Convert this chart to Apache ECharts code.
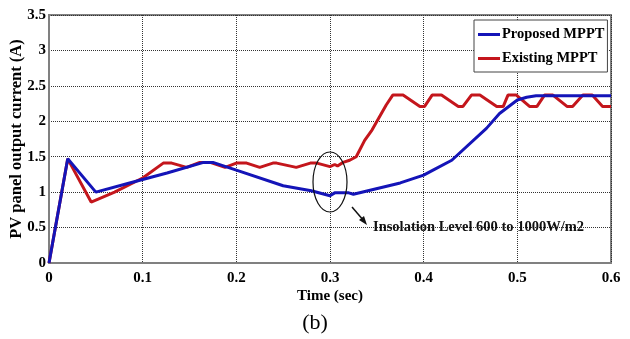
<!DOCTYPE html>
<html>
<head>
<meta charset="utf-8">
<script src="https://cdn.jsdelivr.net/npm/echarts@6/dist/echarts.min.js"></script>
<style>
html, body { margin: 0; padding: 0; background: #fff; }
#chart { width: 630px; height: 339px; }
</style>
</head>
<body>
<div id="chart"></div>
<script>
// Proposed MPPT (blue)
var proposedTime = [0, 0.02, 0.05, 0.086, 0.126, 0.165, 0.175, 0.2, 0.25, 0.28, 0.3, 0.305, 0.32, 0.325, 0.375, 0.4, 0.41, 0.43, 0.467, 0.481, 0.5, 0.51, 0.52, 0.6];
var proposedCurrent = [0, 1.47, 1.0, 1.13, 1.27, 1.42, 1.42, 1.31, 1.09, 1.02, 0.95, 0.99, 0.99, 0.97, 1.13, 1.24, 1.31, 1.45, 1.9, 2.11, 2.3, 2.34, 2.36, 2.36];

// Existing MPPT (red)
var existingTime = [0, 0.02, 0.045, 0.07, 0.1, 0.122, 0.131, 0.147, 0.161, 0.172, 0.188, 0.2, 0.211, 0.225, 0.239, 0.243, 0.264, 0.279, 0.286, 0.3, 0.305, 0.308, 0.314, 0.321, 0.328, 0.337, 0.345, 0.36, 0.367, 0.378, 0.396, 0.401, 0.409, 0.419, 0.437, 0.442, 0.451, 0.46, 0.478, 0.485, 0.49, 0.499, 0.513, 0.521, 0.529, 0.538, 0.553, 0.559, 0.57, 0.58, 0.591, 0.6];
var existingCurrent = [0, 1.47, 0.86, 1.0, 1.2, 1.41, 1.41, 1.35, 1.42, 1.42, 1.35, 1.41, 1.41, 1.35, 1.41, 1.41, 1.35, 1.41, 1.41, 1.36, 1.39, 1.37, 1.42, 1.45, 1.5, 1.73, 1.88, 2.23, 2.37, 2.37, 2.21, 2.21, 2.37, 2.37, 2.21, 2.21, 2.37, 2.37, 2.21, 2.21, 2.37, 2.37, 2.21, 2.21, 2.37, 2.37, 2.21, 2.21, 2.37, 2.37, 2.21, 2.21];

var seriesNames = ['Proposed MPPT', 'Existing MPPT'];
var annotationText = 'Insolation Level 600 to 1000W/m2';

function zip(a, b) {
    var out = [];
    for (var i = 0; i < a.length; i++) {
        out.push([a[i], b[i]]);
    }
    return out;
}

var font = 'Liberation Serif';
var chart = echarts.init(document.getElementById('chart'));

var option = {
    animation: false,
    backgroundColor: '#fff',
    grid: {
        left: 49, right: 19, top: 15, bottom: 76,
        outerBoundsMode: 'none',
        containLabel: false,
        show: true,
        borderColor: '#808080',
        borderWidth: 2
    },
    legend: {
        orient: 'vertical',
        left: 474,
        top: 20,
        padding: [7, 3, 6, 4],
        itemGap: 9,
        itemWidth: 22,
        itemHeight: 3,
        icon: 'rect',
        backgroundColor: '#fff',
        borderColor: '#444',
        borderWidth: 1,
        data: seriesNames,
        textStyle: {
            fontFamily: font,
            fontWeight: 'bold',
            fontSize: 14.5,
            color: '#000',
            padding: [0, 0, 0, -3]
        }
    },
    xAxis: {
        type: 'value',
        min: 0,
        max: 0.6,
        interval: 0.1,
        name: 'Time (sec)',
        nameLocation: 'middle',
        nameGap: 26,
        nameMoveOverlap: false,
        nameTextStyle: { fontFamily: font, fontWeight: 'bold', fontSize: 15, color: '#000' },
        axisLine: { show: true, lineStyle: { color: '#808080', width: 2 } },
        axisTick: { show: false },
        axisLabel: { fontFamily: font, fontWeight: 'bold', fontSize: 15, color: '#000', margin: 8 },
        splitLine: { show: true, lineStyle: { type: 'dotted', color: '#333', width: 1 } }
    },
    yAxis: {
        type: 'value',
        min: 0,
        max: 3.5,
        interval: 0.5,
        name: 'PV panel output current (A)',
        nameLocation: 'middle',
        nameGap: 24,
        nameMoveOverlap: false,
        nameTextStyle: { fontFamily: font, fontWeight: 'bold', fontSize: 16.5, color: '#000' },
        axisLine: { show: true, lineStyle: { color: '#808080', width: 2 } },
        axisTick: { show: false },
        axisLabel: { fontFamily: font, fontWeight: 'bold', fontSize: 15, color: '#000', margin: 3 },
        splitLine: { show: true, lineStyle: { type: 'dotted', color: '#333', width: 1 } }
    },
    series: [
        {
            name: seriesNames[0],
            type: 'line',
            data: zip(proposedTime, proposedCurrent),
            showSymbol: false,
            symbol: 'none',
            lineStyle: { color: '#1414b8', width: 3 },
            itemStyle: { color: '#1414b8' },
            z: 3
        },
        {
            name: seriesNames[1],
            type: 'line',
            data: zip(existingTime, existingCurrent),
            showSymbol: false,
            symbol: 'none',
            lineStyle: { color: '#c4161c', width: 3 },
            itemStyle: { color: '#c4161c' },
            z: 2
        }
    ],
    graphic: [
        {
            type: 'ellipse',
            shape: { cx: 330, cy: 182, rx: 17, ry: 30 },
            style: { fill: 'none', stroke: '#111', lineWidth: 1.2 },
            z: 10
        },
        {
            type: 'line',
            shape: { x1: 352, y1: 207, x2: 364, y2: 221 },
            style: { stroke: '#111', lineWidth: 1.5 },
            z: 10
        },
        {
            type: 'polygon',
            shape: { points: [[367, 225], [359, 220], [364, 216]] },
            style: { fill: '#111' },
            z: 10
        },
        {
            type: 'text',
            left: 373,
            top: 220,
            style: {
                text: annotationText,
                font: 'bold 14.5px "Liberation Serif"',
                fill: '#111'
            },
            z: 10
        },
        {
            type: 'text',
            left: 'center',
            top: 312,
            style: {
                text: '(b)',
                font: '22px "Liberation Serif"',
                fill: '#000'
            }
        }
    ]
};

chart.setOption(option);
</script>
</body>
</html>
